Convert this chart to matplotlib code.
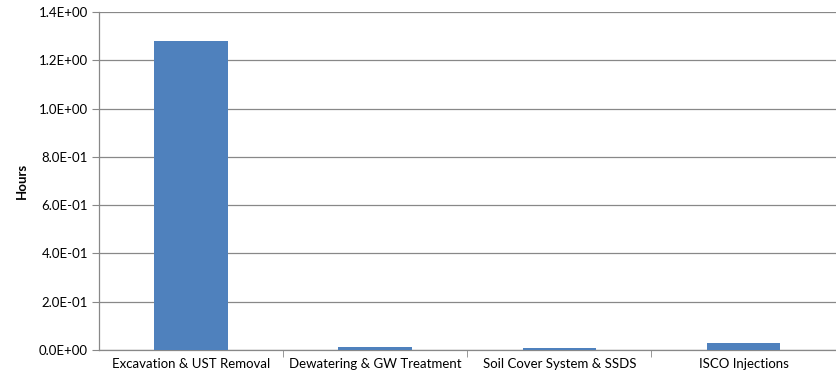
import matplotlib.pyplot as plt
from matplotlib.ticker import FuncFormatter, FixedLocator

categories = ["Excavation & UST Removal", "Dewatering & GW Treatment",
              "Soil Cover System & SSDS", "ISCO Injections"]
hours = [1.28, 0.012, 0.010, 0.031]

plt.rcParams['font.family'] = ['Lato', 'DejaVu Sans']

fig = plt.figure(figsize=(8.37, 3.82), dpi=100)
ax = fig.add_axes([0.1183, 0.0838, 0.880, 0.885])

x = range(len(categories))
ax.bar(x, hours, width=0.4, color='#4f81bd', zorder=3)

ax.set_xlim(-0.5, len(categories) - 0.5)
ax.set_ylim(0, 1.4)
ax.set_yticks([i * 0.2 for i in range(8)])
ax.yaxis.set_major_formatter(FuncFormatter(lambda v, p: f"{v:.1E}"))
ax.set_xticks(list(x))
ax.set_xticklabels(categories)
ax.xaxis.set_minor_locator(FixedLocator([0.5, 1.5, 2.5]))
ax.tick_params(axis='x', which='major', length=0, labelsize=9.5, pad=6)
ax.tick_params(axis='x', which='minor', length=5, color='#888888', direction='out')
ax.tick_params(axis='y', length=5, color='#888888', labelsize=9.5, pad=3)

ax.grid(axis='y', color='#888888', linewidth=0.9, zorder=0)
for side in ['top', 'right']:
    ax.spines[side].set_visible(False)
for side in ['left', 'bottom']:
    ax.spines[side].set_color('#888888')
    ax.spines[side].set_linewidth(0.9)

ax.set_ylabel("Hours", fontsize=9.5, fontweight='bold', labelpad=8)

fig.savefig("out.png", dpi=100)
